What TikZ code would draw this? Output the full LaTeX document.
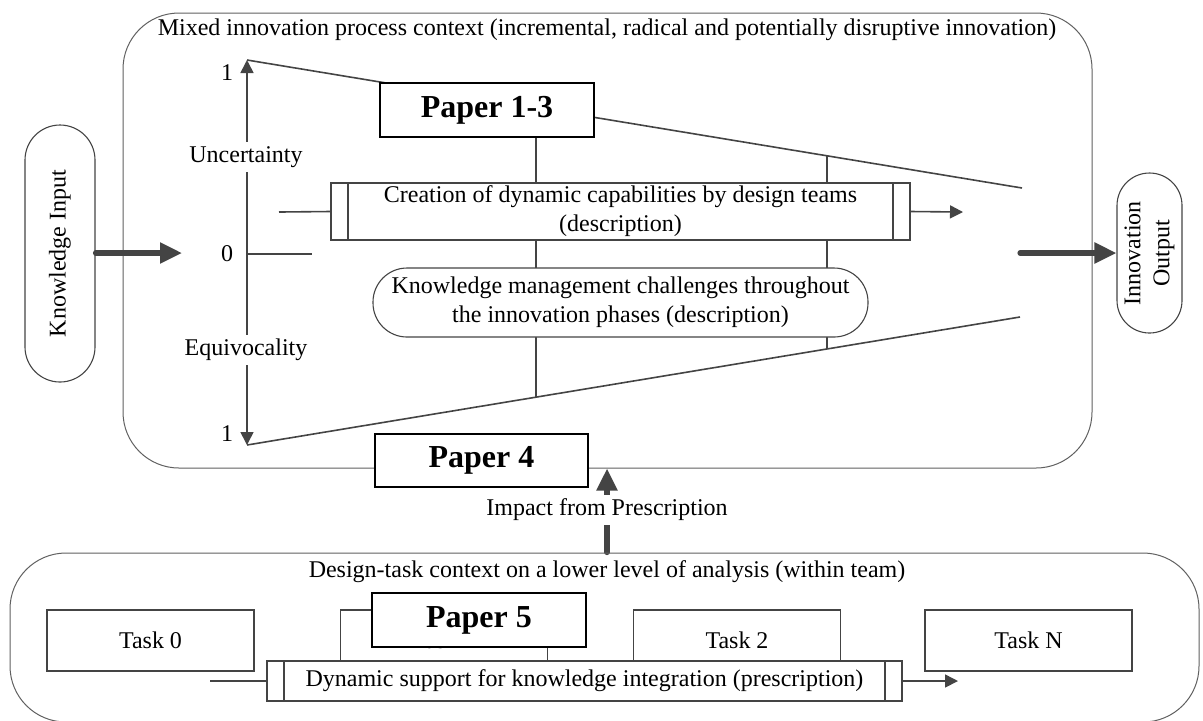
\documentclass[tikz,border=0pt]{standalone}
\usepackage{fontspec}
\setmainfont{Liberation Serif}
\usetikzlibrary{arrows.meta,calc}
\pgfdeclarelayer{bg}
\pgfsetlayers{bg,main}
\definecolor{ln}{HTML}{444444}
\begin{document}
\begin{tikzpicture}[x=0.5pt,y=-0.5pt,
  every node/.style={font=\fontsize{12}{14.5}\selectfont, inner sep=0pt, align=center},
  ctx/.style={draw=ln!85, line width=0.5pt, rounded corners=28pt},
  pill/.style={draw=ln, line width=0.55pt, fill=white},
  taskbox/.style={draw=ln, line width=0.9pt, fill=white, minimum width=103.5pt, minimum height=30.5pt},
  paperbox/.style={draw=black, line width=1.1pt, fill=white, minimum width=107pt, minimum height=27pt,
    font=\fontsize{16}{19}\selectfont\bfseries},
  procbox/.style={draw=ln, line width=0.9pt, fill=white},
  conn/.style={draw=ln, line width=0.8pt},
  arrowline/.style={conn, -{Triangle[length=6.5pt,width=6.5pt]}},
  axisline/.style={conn, {Triangle[length=6.5pt,width=6.5pt]}-{Triangle[length=6.5pt,width=6.5pt]}},
  bigarrow/.style={draw=ln, line width=2.6pt, line cap=round, -{Triangle[length=11pt,width=10pt]}},
  axislabel/.style={fill=white, inner sep=2pt},
]
\useasboundingbox (0,0) rectangle (1203,720);

% ---------- upper context: innovation process ----------
\node[ctx, minimum width=484.5pt, minimum height=227.5pt] (upper) at (607.5,240.5) {};
\node (uppertitle) at (607,30) {Mixed innovation process context (incremental, radical and potentially disruptive innovation)};

% input / output pills
\node[pill, rounded corners=17.5pt, minimum width=35pt, minimum height=128.5pt] (kin) at (60,253.5) {};
\node[rotate=90] (kintext) at (kin.center) {Knowledge Input};
\node[pill, rounded corners=16.25pt, minimum width=32.5pt, minimum height=80pt] (iout) at (1149.5,253) {};
\node[rotate=90] (iouttext) at (iout.center) {Innovation\\Output};

% uncertainty / equivocality axis
\coordinate (ytop) at (247,60);
\coordinate (ybot) at (247,445);
\coordinate (yzero) at (247,254);
\coordinate (zerotick) at (312,254);
\node (one1) at (227,73) {1};
\node (zero) at (227,254) {0};
\node (one2) at (227,434) {1};

% funnel end points and vertical phase lines
\coordinate (ftr) at (1022,188);
\coordinate (fbr) at (1020,317);
\coordinate (v1bot) at (536,397);
\coordinate (v2top) at (827,156);
\coordinate (v2bot) at (827,349);

\node[paperbox] (p13) at (487,110) {Paper 1-3};
\node[procbox, minimum width=289.5pt, minimum height=28.5pt] (cre) at (620.5,211.5)
  {Creation of dynamic capabilities by design teams\\(description)};
\draw[conn] ([xshift=9pt]cre.north west) -- ([xshift=9pt]cre.south west);
\draw[conn] ([xshift=-9pt]cre.north east) -- ([xshift=-9pt]cre.south east);
\node[pill, rounded corners=17pt, minimum width=247.5pt, minimum height=34.5pt] (km) at (620.5,302.5)
  {Knowledge management challenges throughout\\the innovation phases (description)};
\node[paperbox, minimum width=106.5pt, minimum height=26.5pt] (p4) at (481.5,460.5) {Paper 4};

\coordinate (crein) at (279,212);
\coordinate (creout) at (963,212);
\draw[conn] (crein) -- (cre.west);
\draw[arrowline] (cre.east) -- (creout);

\coordinate (kinend) at (182,253);
\coordinate (ioutstart) at (1020,253);
\draw[bigarrow] (kin.east |- kinend) -- (kinend);
\draw[bigarrow] (ioutstart) -- (iout.west |- ioutstart);

% ---------- lower context: design tasks ----------
\node[ctx, minimum width=594.5pt, minimum height=84.5pt] (lower) at (604.5,637.5) {};
\node (lowertitle) at (607,572) {Design-task context on a lower level of analysis (within team)};

\node[taskbox] (t0) at (150.5,640.5) {Task 0};
\node[taskbox] (t1) at (444,640.5) {Task 1};
\node[taskbox] (t2) at (737,640.5) {Task 2};
\node[taskbox] (tn) at (1028.5,640.5) {Task N};
\node[paperbox] (p5) at (479,620) {Paper 5};
\node[procbox, minimum width=317.5pt, minimum height=20pt] (dyn) at (584.5,681)
  {Dynamic support for knowledge integration (prescription)};
\draw[conn] ([xshift=9pt]dyn.north west) -- ([xshift=9pt]dyn.south west);
\draw[conn] ([xshift=-9pt]dyn.north east) -- ([xshift=-9pt]dyn.south east);
\coordinate (dynin) at (210,681);
\coordinate (dynout) at (958,681);
\draw[conn] (dynin) -- (dyn.west);
\draw[arrowline] (dyn.east) -- (dynout);

% impact from the lower to the upper context
\coordinate (impx) at (607,0);
\node[axislabel] (impact) at (607,510) {Impact from Prescription};

\node[axislabel] (unc) at (246,157) {Uncertainty};
\node[axislabel] (equ) at (246,350) {Equivocality};

\begin{pgfonlayer}{bg}
  \draw[axisline] (ytop) -- (ybot);
  \draw[conn] (yzero) -- (zerotick);
  \draw[conn] (ytop) -- (ftr);
  \draw[conn] (ybot) -- (fbr);
  \draw[conn] (p13.south -| v1bot) -- (v1bot);
  \draw[conn] (v2top) -- (v2bot);
  \draw[bigarrow] (lower.north -| impx) -- (upper.south -| impx);
\end{pgfonlayer}
\end{tikzpicture}
\end{document}
